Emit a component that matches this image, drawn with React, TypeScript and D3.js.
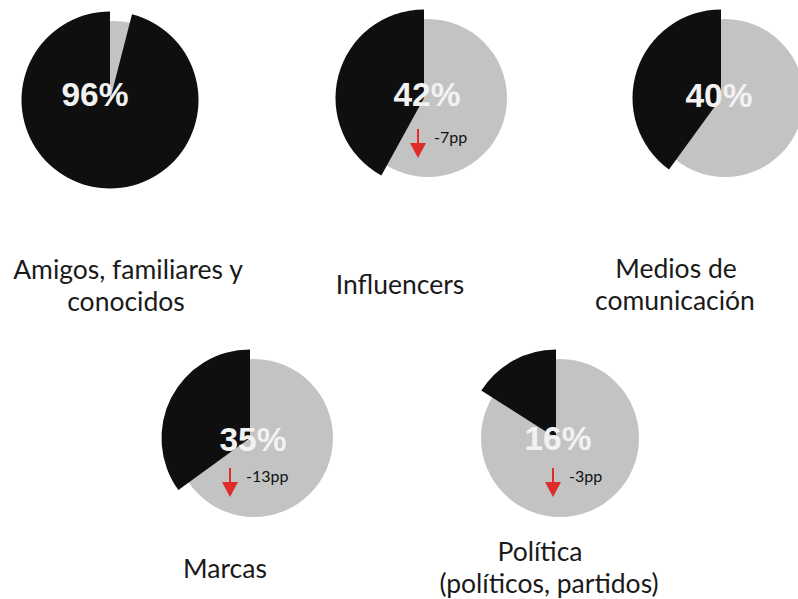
import React, { useEffect, useRef } from "react";
import * as d3 from "d3";

// share of respondents per source (%)
const categories = [
  ["Amigos, familiares y", "conocidos"],
  ["Influencers"],
  ["Medios de", "comunicación"],
  ["Marcas"],
  ["Política", "(políticos, partidos)"],
];
const shares = [96, 42, 40, 35, 16];
const changes = [null, -7, null, -13, -3];

// where each pie sits on the page (lx: one centre per label line)
const layout = [
  { cx: 110, cy: 100, vx: 95, vy: 106, lx: [128, 126], ly: 279, ax: 0, ay: 0 },
  { cx: 424, cy: 98, vx: 427, vy: 106, lx: [400], ly: 294, ax: 418, ay: 129 },
  { cx: 721, cy: 98, vx: 719, vy: 107, lx: [676, 675], ly: 278, ax: 0, ay: 0 },
  { cx: 250, cy: 438, vx: 253, vy: 451, lx: [225], ly: 578, ax: 230, ay: 468 },
  { cx: 556, cy: 438, vx: 558, vy: 450, lx: [540, 549], ly: 561, ax: 553, ay: 468 },
];

const W = 798;
const H = 599;

const App = () => {
  const ref = useRef(null);

  const createPie = d3
    .pie()
    .value(d => d)
    .sort(null);
  const bigArc = d3.arc().innerRadius(0).outerRadius(88.5);
  const grayArc = d3.arc().innerRadius(0).outerRadius(79);

  useEffect(() => {
    const svg = d3.select(ref.current);
    svg.selectAll("*").remove();

    shares.forEach((v, i) => {
      const pos = layout[i];
      const slices = createPie([100 - v, v]);
      const g = svg.append("g");

      // gray part drawn as full disc sitting a bit to the right
      g.append("path")
        .attr("transform", `translate(${pos.cx + 4} ${pos.cy})`)
        .attr("d", grayArc({ startAngle: 0, endAngle: 2 * Math.PI }))
        .attr("fill", "#c3c3c3");

      g.append("path")
        .attr("transform", `translate(${pos.cx} ${pos.cy})`)
        .attr("d", bigArc(slices[1]))
        .attr("fill", "#0f0f0f");

      g.append("text")
        .attr("x", pos.vx)
        .attr("y", pos.vy)
        .attr("text-anchor", "middle")
        .style("font-family", "'Liberation Sans', Arial, sans-serif")
        .style("font-weight", "bold")
        .style("font-size", "33.5px")
        .style("fill", "#f2f2f2")
        .text(`${v}%`);

      if (changes[i] !== null) {
        const a = g.append("g").attr("transform", `translate(${pos.ax} ${pos.ay})`);
        a.append("line")
          .attr("x1", 0)
          .attr("x2", 0)
          .attr("y1", 0)
          .attr("y2", 16)
          .attr("stroke", "#e02b2b")
          .attr("stroke-width", 2);
        a.append("path")
          .attr("d", "M-8,14 L8,14 L0,29 Z")
          .attr("fill", "#e02b2b");
        a.append("text")
          .attr("x", 16)
          .attr("y", 14)
          .style("font-family", "Lato, sans-serif")
          .style("font-size", "16px")
          .style("fill", "#111")
          .text(`${changes[i]}pp`);
      }

      const label = g
        .append("text")
        .attr("text-anchor", "middle")
        .style("font-family", "Lato, sans-serif")
        .style("font-size", "26.5px")
        .style("fill", "#1a1a1a");
      categories[i].forEach((line, j) => {
        label
          .append("tspan")
          .attr("x", pos.lx[j])
          .attr("y", pos.ly + j * 32)
          .text(line);
      });
    });
  }, []);

  return (
    <svg
      ref={ref}
      width={W}
      height={H}
      style={{ position: "absolute", left: 0, top: 0, background: "#fff" }}
    />
  );
};

export default App;
